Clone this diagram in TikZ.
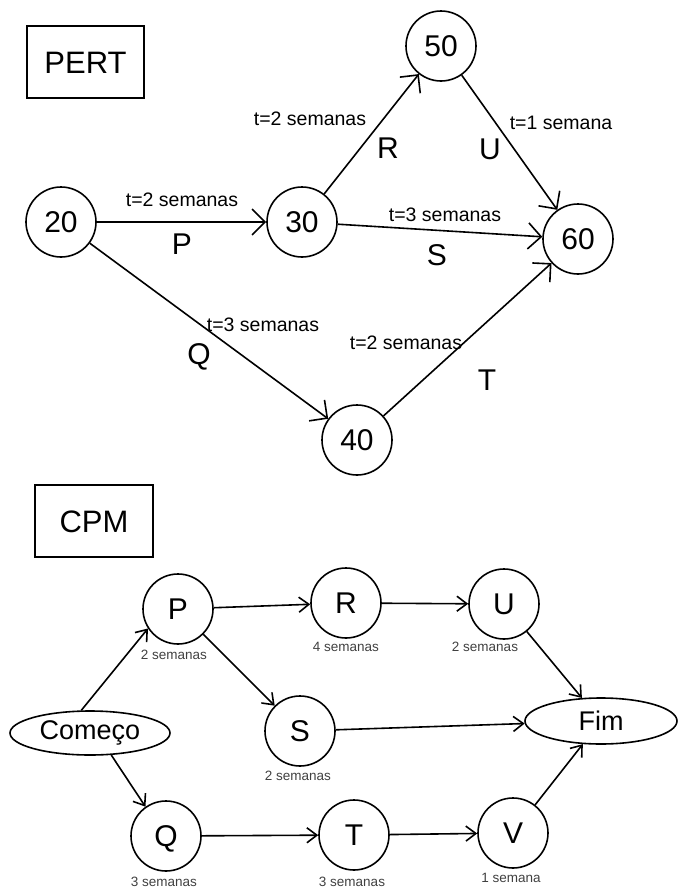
\documentclass[tikz,border=0pt]{standalone}
\usepackage{fontspec}
\setmainfont{Liberation Sans}
\usetikzlibrary{arrows.meta,shapes.geometric}
\tikzset{
  circ/.style={circle, draw, line width=1.6pt, minimum size=70pt, inner sep=0pt, text height=21.5pt, text depth=0pt, font=\fontsize{30}{36}\selectfont},
  ell/.style={ellipse, draw, line width=1.6pt, inner sep=0pt},
  titlebox/.style={draw, line width=1.6pt, inner sep=0pt, text height=22pt, text depth=0pt, font=\fontsize{31}{36}\selectfont},
  lbl/.style={font=\fontsize{19.5}{22}\selectfont, inner sep=0pt},
  letter/.style={font=\fontsize{30}{36}\selectfont, inner sep=0pt},
  small/.style={font=\fontsize{13.5}{16}\selectfont, text=black!75, inner sep=0pt},
  arr/.style={-{Straight Barb[length=13pt,width=26pt]}, line width=1.6pt},
  carr/.style={-{Straight Barb[length=10pt,width=15pt]}, line width=1.6pt}
}
\begin{document}
\begin{tikzpicture}[x=1pt,y=-1pt]
\useasboundingbox (0,0) rectangle (678,889);
% PERT
\node[titlebox, minimum width=117pt, minimum height=72pt] (pert) at (85.5,62) {PERT};
\node[circ] (n20) at (61,222) {20};
\node[circ] (n30) at (302,222) {30};
\node[circ] (n50) at (441,46) {50};
\node[circ] (n60) at (578,239) {60};
\node[circ] (n40) at (357,440) {40};
\draw[arr] (n20) -- (n30);
\draw[arr] (n30) -- (n50);
\draw[arr] (n50) -- (n60);
\draw[arr] (n30) -- (n60);
\draw[arr] (n20) -- (n40);
\draw[arr] (n40) -- (n60);
\node[lbl] (lp) at (182,200) {t=2 semanas};
\node[letter] (xp) at (182,244) {P};
\node[lbl] (lr) at (310,119) {t=2 semanas};
\node[letter] (xr) at (388,148) {R};
\node[letter] (xu) at (490,149) {U};
\node[lbl] (lu) at (561,123) {t=1 semana};
\node[lbl] (ls) at (445,215) {t=3 semanas};
\node[letter] (xs) at (437,255) {S};
\node[lbl] (lq) at (263,325) {t=3 semanas};
\node[letter] (xq) at (199,357) {Q};
\node[lbl] (lt) at (406,343) {t=2 semanas};
\node[letter] (xt) at (487,380) {T};
% CPM
\node[titlebox, minimum width=118pt, minimum height=72pt] (cpm) at (94,521) {CPM};
\node[ell, minimum width=160pt, minimum height=44pt, font=\fontsize{27}{32}\selectfont] (com) at (90,733) {Começo};
\node[ell, minimum width=152pt, minimum height=46pt, text height=19.5pt, text depth=0pt, font=\fontsize{27}{32}\selectfont] (fim) at (601,721) {Fim};
\node[circ] (cp) at (178,609) {P};
\node[circ] (cr) at (346,603) {R};
\node[circ] (cu) at (504,604) {U};
\node[circ] (cs) at (300,731) {S};
\node[circ] (cq) at (166,836) {Q};
\node[circ] (ct) at (354,835) {T};
\node[circ] (cv) at (513,833) {V};
\draw[carr] (com.111) -- (cp.213);
\draw[carr] (com.314) -- (cq.125);
\draw[carr] (cp) -- (cr);
\draw[carr] (cr) -- (cu);
\draw[carr] (cp) -- (cs);
\draw[carr] (cu) -- (fim);
\draw[carr] (cs) -- (fim);
\draw[carr] (cq) -- (ct);
\draw[carr] (ct) -- (cv);
\draw[carr] (cv) -- (fim);
\node[small] (sp) at (174,655) {2 semanas};
\node[small] (sr) at (346,647) {4 semanas};
\node[small] (su) at (485,647) {2 semanas};
\node[small] (ss) at (298,776) {2 semanas};
\node[small] (sq) at (164,882) {3 semanas};
\node[small] (st) at (352,882) {3 semanas};
\node[small] (sv) at (511,878) {1 semana};
\end{tikzpicture}
\end{document}
